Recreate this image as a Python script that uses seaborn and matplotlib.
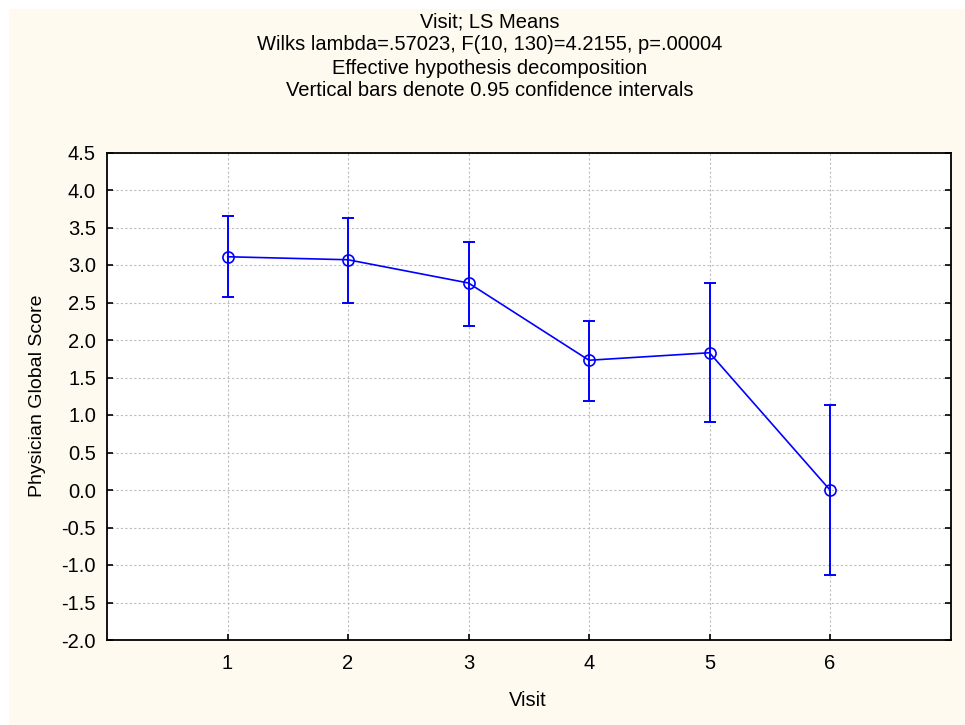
import matplotlib
matplotlib.use("Agg")
import matplotlib.pyplot as plt
import seaborn as sns
import pandas as pd
from matplotlib.patches import Rectangle

visits = [1, 2, 3, 4, 5, 6]
means = [3.11, 3.07, 2.76, 1.73, 1.83, 0.0]
lower = [2.58, 2.50, 2.19, 1.19, 0.91, -1.13]
upper = [3.65, 3.63, 3.31, 2.26, 2.76, 1.13]
y_ticks = [4.5, 4.0, 3.5, 3.0, 2.5, 2.0, 1.5, 1.0, 0.5, 0.0, -0.5, -1.0, -1.5, -2.0]
title_lines = ["Visit; LS Means",
               "Wilks lambda=.57023, F(10, 130)=4.2155, p=.00004",
               "Effective hypothesis decomposition",
               "Vertical bars denote 0.95 confidence intervals"]

sns.set_style("white")
plt.rcParams['font.family'] = ['Liberation Sans', 'DejaVu Sans']
plt.rcParams['font.size'] = 14
plt.rcParams['text.color'] = 'black'
plt.rcParams['axes.labelcolor'] = 'black'
plt.rcParams['xtick.color'] = 'black'
plt.rcParams['ytick.color'] = 'black'

W, H = 965, 725
fig = plt.figure(figsize=(W / 100, H / 100), dpi=100)
fig.patch.set_facecolor("white")
fig.patches.append(Rectangle((9 / W, 0), 1, 1 - 9 / H, transform=fig.transFigure,
                             facecolor="#FFFAF0", edgecolor="none", zorder=-10))

ax = fig.add_axes([107 / W, 1 - 640 / H, (950.5 - 107) / W, (640 - 152.5) / H])
ax.set_facecolor("white")

df = pd.DataFrame({"Visit": visits, "Score": means})
blue = "#0000FF"
yerr = [[m - l for m, l in zip(means, lower)], [u - m for m, u in zip(means, upper)]]
ax.errorbar(visits, means, yerr=yerr, fmt="none", ecolor=blue, elinewidth=1.4,
            capsize=4.5, capthick=1.4, zorder=3)
sns.lineplot(data=df, x="Visit", y="Score", ax=ax, color=blue, linewidth=1.2,
             marker="o", markersize=8, markerfacecolor="none",
             markeredgecolor=blue, markeredgewidth=1.2, zorder=4)

ax.set_xlim(0, 7)
ax.set_ylim(-2.0, 4.5)
ax.set_xticks(visits)
ax.set_xticklabels([str(v) for v in visits])
ax.set_yticks(y_ticks)
ax.set_yticklabels([f"{t:.1f}" for t in y_ticks])
ax.grid(True, color="#BDBDBD", linestyle=(0, (2, 2)), linewidth=0.8)
ax.set_axisbelow(True)
for s in ax.spines.values():
    s.set_color("black")
    s.set_linewidth(1.3)
ax.tick_params(axis="both", direction="in", length=4, width=1.2, colors="black",
               labelcolor="black", labelsize=14.5)
ax.tick_params(axis="y", right=True, left=True, pad=8)
ax.tick_params(axis="x", bottom=True, pad=10)

ax.set_xlabel("Visit", fontsize=14.5, color="black")
ax.set_ylabel("Physician Global Score", fontsize=14, color="black")
ax.xaxis.set_label_coords(528 / W, 1 - 700 / H, transform=fig.transFigure)
ax.yaxis.set_label_coords(38 / W, 1 - 396 / H, transform=fig.transFigure)
ax.xaxis.label.set_va("center")
ax.yaxis.label.set_va("center")

ys = [22, 45, 68, 91]
for txt, y in zip(title_lines, ys):
    fig.text(490 / W, 1 - y / H, txt, ha="center", va="center", fontsize=14.5,
             color="black")

fig.savefig("out.png", dpi=100, facecolor=fig.get_facecolor())
